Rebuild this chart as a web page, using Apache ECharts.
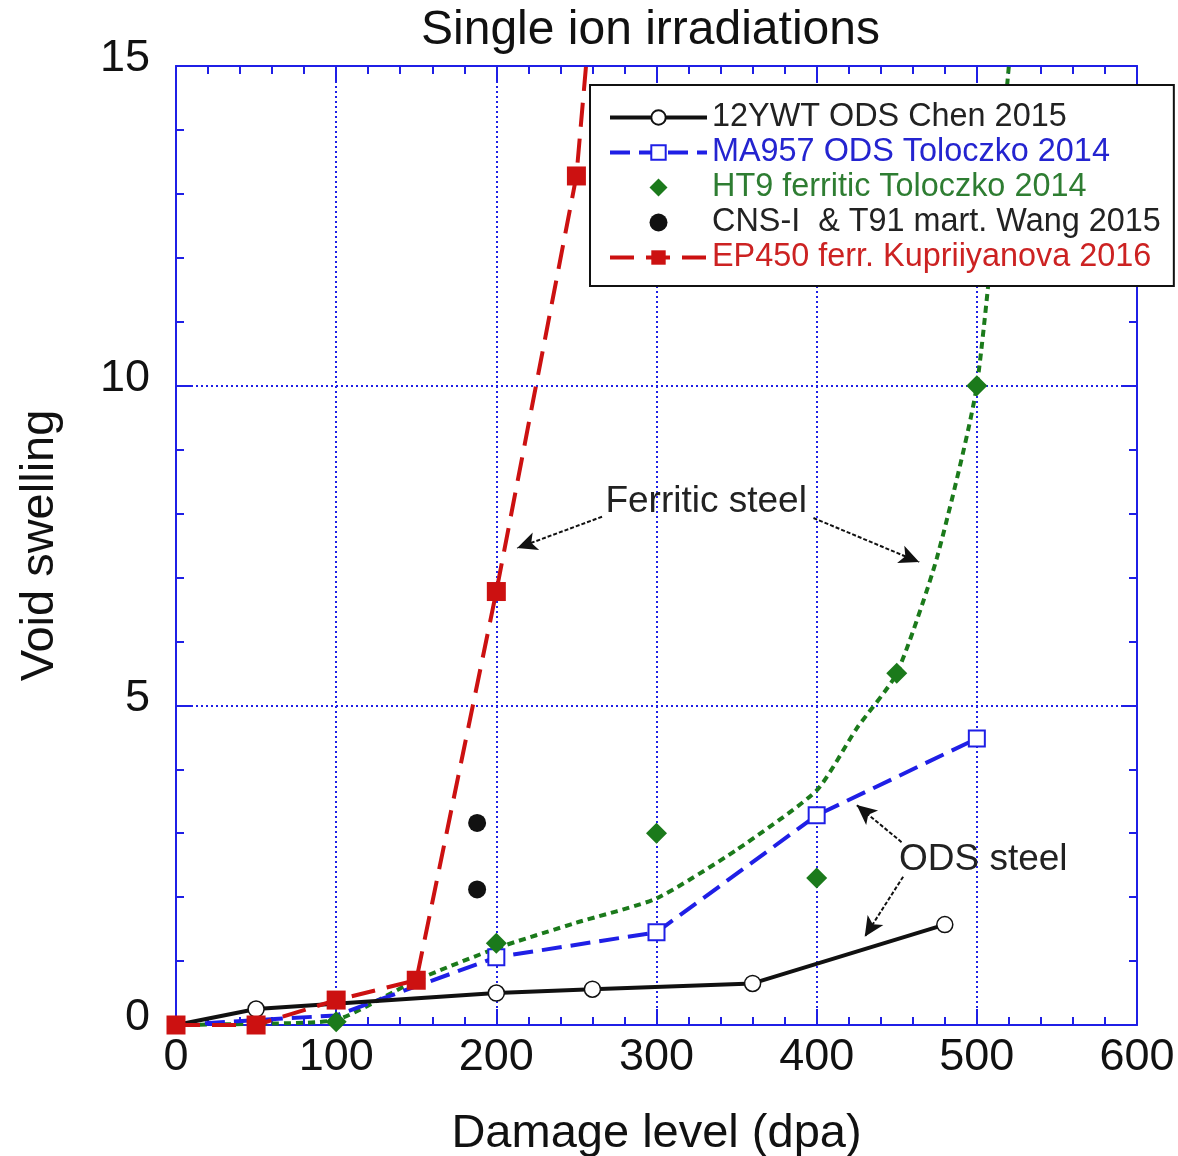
<!DOCTYPE html>
<html>
<head>
<meta charset="utf-8">
<script src="https://cdn.jsdelivr.net/npm/echarts@6/dist/echarts.min.js"></script>
<style>
  html, body { margin: 0; padding: 0; background: #fff; }
  #chart { width: 1178px; height: 1156px; }
</style>
</head>
<body>
<div id="chart"></div>
<script>
// ---- data ----
var seriesNames = [
	'12YWT ODS Chen 2015',
	'MA957 ODS Toloczko 2014',
	'HT9 ferritic Toloczko 2014',
	'CNS-I  & T91 mart. Wang 2015',
	'EP450 ferr. Kupriiyanova 2016'
];
var chen12ywt = [[0, 0], [50, 0.25], [200, 0.5], [260, 0.56], [360, 0.65], [480, 1.57]];
var ma957 = [[0, 0], [100, 0.15], [200, 1.06], [300, 1.45], [400, 3.28], [500, 4.48]];
var ht9Points = [[100, 0.05], [200, 1.28], [300, 3.0], [400, 2.3], [450, 5.5], [500, 10]];
var ht9Trend = [[0, 0], [50, 0.02], [100, 0.08], [150, 0.7], [200, 1.2], [250, 1.6], [300, 1.98],
	[350, 2.74], [400, 3.67], [425, 4.64], [450, 5.5], [475, 7.3], [500, 10], [520, 15]];
var cnsT91 = [[188, 3.16], [188, 2.12]];
var ep450 = [[0, 0], [50, 0], [100, 0.39], [150, 0.7], [200, 6.78], [250, 13.28]];
var ep450Tail = [256, 15];
var xTicks = [0, 600, 100];
var yTicks = [0, 15, 5];
// annotation arrows [from, to] and texts
var arrows = [
	[[266, 7.95], [213, 7.46]],
	[[398, 7.93], [464, 7.24]],
	[[453, 2.86], [425, 3.44]],
	[[454, 2.32], [430, 1.38]]
];
var notes = [
	{ text: 'Ferritic steel', at: [331, 8.18] },
	{ text: 'ODS steel', at: [504, 2.58] }
];

var blue = '#1f1fe6';
var green = '#1b7a1b';
var red = '#cc1111';
var font = 'Liberation Sans';

function noMarker(p) {
	return { value: p, symbol: 'none' };
}

function frameAxis(pos, range, isX, main) {
	var ax = {
		type: 'value',
		position: pos,
		min: range[0],
		max: range[1],
		interval: range[2],
		axisLine: { show: true, onZero: false, lineStyle: { color: blue, width: 2 } },
		axisTick: { show: true, inside: true, length: 16, lineStyle: { color: blue, width: 2 } },
		minorTick: { show: true, splitNumber: 5, length: 8, lineStyle: { color: blue, width: 2 } },
		splitLine: { show: false },
		axisLabel: { show: false }
	};
	if (main) {
		ax.splitLine = { show: true, lineStyle: { color: blue, type: [2, 3], width: 2 } };
		ax.axisLabel = { show: true, fontSize: 45, color: '#111', fontFamily: font };
		if (isX) {
			ax.axisLabel.margin = 10;
			ax.name = 'Damage level (dpa)';
			ax.nameLocation = 'middle';
			ax.nameGap = 86;
		} else {
			ax.axisLabel.margin = 26;
			ax.axisLabel.verticalAlign = 'bottom';
			ax.axisLabel.lineHeight = 14;
			ax.name = 'Void swelling';
			ax.nameLocation = 'middle';
			ax.nameRotate = 90;
			ax.nameGap = 112;
		}
		ax.nameTextStyle = { fontSize: 47, color: '#111', fontFamily: font };
	}
	return ax;
}

var chart = echarts.init(document.getElementById('chart'));
var option = {
	animation: false,
	backgroundColor: '#fff',
	textStyle: { fontFamily: font },
	title: {
		text: 'Single ion irradiations',
		left: 421,
		top: 7,
		padding: 0,
		textStyle: { fontSize: 48, fontWeight: 'normal', color: '#111', fontFamily: font }
	},
	grid: { left: 176, right: 41, top: 66, bottom: 131, outerBoundsMode: 'none', containLabel: false },
	xAxis: [frameAxis('bottom', xTicks, true, true), frameAxis('top', xTicks, true, false)],
	yAxis: [frameAxis('left', yTicks, false, true), frameAxis('right', yTicks, false, false)],
	legend: {
		orient: 'vertical',
		left: 590,
		top: 85,
		padding: [15, 13, 11, 18],
		itemGap: 0,
		itemWidth: 97,
		itemHeight: 18,
		backgroundColor: '#fff',
		borderColor: '#111',
		borderWidth: 2,
		selectedMode: false,
		symbolKeepAspect: true,
		lineStyle: { width: 'inherit' },
		textStyle: { fontSize: 32.4, lineHeight: 35, fontFamily: font },
		data: [
			{ name: seriesNames[0], textStyle: { color: '#222' } },
			{ name: seriesNames[1], textStyle: { color: '#2424d0' } },
			{ name: seriesNames[2], icon: 'path://M0,-1L1,0L0,1L-1,0Z', textStyle: { color: '#2e7d32' } },
			{ name: seriesNames[3], textStyle: { color: '#222' } },
			{ name: seriesNames[4], textStyle: { color: '#cc2222' } }
		]
	},
	series: [
		{
			name: 'HT9 trend',
			type: 'line',
			data: ht9Trend,
			smooth: 0.2,
			showSymbol: false,
			z: 2,
			lineStyle: { color: green, width: 4, type: [7, 5] }
		},
		{
			name: seriesNames[1],
			type: 'line',
			data: ma957.map(function(p) { return p[0] === 100 ? noMarker(p) : p; }),
			symbol: 'rect',
			symbolSize: 16,
			z: 3,
			itemStyle: { color: '#fff', borderColor: blue, borderWidth: 2 },
			lineStyle: { color: blue, width: 4, type: [20, 9] }
		},
		{
			name: seriesNames[0],
			type: 'line',
			data: chen12ywt,
			symbol: 'circle',
			symbolSize: 16,
			z: 4,
			itemStyle: { color: '#fff', borderColor: '#111', borderWidth: 1.5 },
			lineStyle: { color: '#111', width: 4 }
		},
		{
			name: seriesNames[4],
			type: 'line',
			data: ep450.concat([noMarker(ep450Tail)]),
			symbol: 'rect',
			symbolSize: 19,
			z: 5,
			itemStyle: { color: red },
			lineStyle: { color: red, width: 4, type: [24, 12] }
		},
		{
			name: seriesNames[2],
			type: 'scatter',
			data: ht9Points,
			symbol: 'diamond',
			symbolSize: 21,
			z: 6,
			itemStyle: { color: green, opacity: 1 }
		},
		{
			name: seriesNames[3],
			type: 'scatter',
			data: cnsT91,
			symbol: 'circle',
			symbolSize: 18,
			z: 6,
			itemStyle: { color: '#111', opacity: 1 }
		},
		{
			name: 'notes',
			type: 'scatter',
			data: [],
			z: 7,
			silent: true,
			markLine: {
				silent: true,
				symbol: ['none', 'arrow'],
				symbolSize: [14, 20],
				label: { show: false },
				lineStyle: { color: '#111', width: 2, type: [4, 2] },
				data: arrows.map(function(a) {
					return [{ coord: a[0] }, { coord: a[1] }];
				})
			},
			markPoint: {
				silent: true,
				symbol: 'rect',
				symbolSize: 1,
				itemStyle: { color: 'rgba(0,0,0,0)' },
				data: notes.map(function(n) {
					return {
						coord: n.at,
						label: {
							show: true,
							position: 'inside',
							formatter: n.text,
							fontSize: 37,
							color: '#222',
							fontFamily: font
						}
					};
				})
			}
		}
	]
};
chart.setOption(option);
</script>
</body>
</html>
